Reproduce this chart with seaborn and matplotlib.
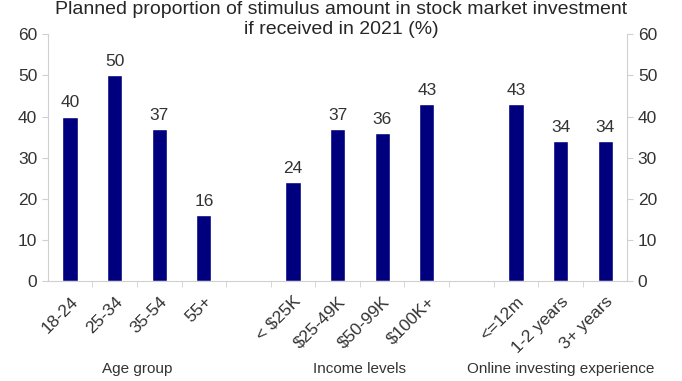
import numpy as np
import pandas as pd
import matplotlib
matplotlib.use("Agg")
import matplotlib.pyplot as plt
import seaborn as sns

# data
categories = ["18-24", "25-34", "35-54", "55+", " ",
              "< $25K", "$25-49K", "$50-99K", "$100K+", "  ",
              "<=12m", "1-2 years", "3+ years"]
values = [40, 50, 37, 16, np.nan, 24, 37, 36, 43, np.nan, 43, 34, 34]
groups = ["Age group", "Income levels", "Online investing experience"]
group_centers = [1.5, 6.5, 11.0]

title = "Planned proportion of stimulus amount in stock market investment\nif received in 2021 (%)"

sns.set_style("white")
plt.rcParams["font.family"] = ["Liberation Sans", "DejaVu Sans"]

df = pd.DataFrame({"cat": categories, "val": values})

fig, ax = plt.subplots(figsize=(6.82, 3.81), dpi=100)
fig.subplots_adjust(left=0.07, right=0.92, top=0.91, bottom=0.262)

sns.barplot(data=df, x="cat", y="val", order=categories, color="#00007f",
            saturation=1, width=0.34, ax=ax)

for i, v in enumerate(values):
    if not np.isnan(v):
        ax.text(i, v + 1.5, f"{v:.0f}", ha="center", va="bottom",
                fontsize=12.5, color="#333333")

ax.set_ylim(0, 60)
ax.set_xlim(-0.5, len(categories) - 0.5)
ax.set_yticks(range(0, 61, 10))
ax.set_xlabel("")
ax.set_ylabel("")

grey = "#d0d0d0"
ax.spines["top"].set_visible(False)
for s in ["left", "right", "bottom"]:
    ax.spines[s].set_color(grey)

ax.tick_params(axis="y", labelsize=12.5, colors="#333333", length=4,
               color=grey, left=True, right=True, labelright=True)
ax.set_xticks(range(len(categories)))
ax.set_xticklabels(categories, rotation=45, ha="right", rotation_mode="anchor",
                   fontsize=12.5, color="#333333")
ax.tick_params(axis="x", which="major", length=0, pad=9)
ax.set_xticks(np.arange(0.5, len(categories) - 0.5, 1.0), minor=True)
ax.tick_params(axis="x", which="minor", length=4, color=grey, bottom=True)

for name, c in zip(groups, group_centers):
    ax.text(c, -0.355, name, transform=ax.get_xaxis_transform(), ha="center",
            va="center", fontsize=11, color="#333333")

fig.suptitle(title, fontsize=14, y=0.997, x=0.5, va="top", linespacing=1.25)

fig.savefig("out.png", dpi=100)
